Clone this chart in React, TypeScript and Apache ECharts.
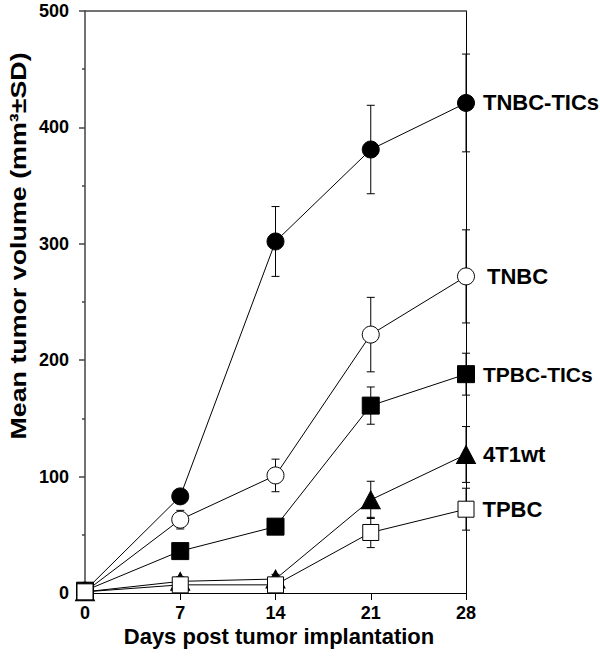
import React, { useEffect, useRef } from "react";
import * as echarts from "echarts";

const days = [0, 7, 14, 21, 28];
const seriesNames = ["TNBC-TICs", "TNBC", "TPBC-TICs", "4T1wt", "TPBC"];
const tnbcTicsMean = [2, 83, 302, 381, 421];
const tnbcTicsSd = [0, 4, 30, 38, 42];
const tnbcMean = [1, 63, 101, 222, 272];
const tnbcSd = [0, 8, 14, 32, 40];
const tpbcTicsMean = [2, 36, 57, 161, 188];
const tpbcTicsSd = [0, 3, 4, 16, 18];
const t41wtMean = [1, 10, 12, 80, 119];
const t41wtSd = [0, 4, 4, 16, 24];
const tpbcMean = [1, 7, 7, 52, 72];
const tpbcSd = [0, 5, 3, 13, 18];
const yTicks = [0, 100, 200, 300, 400, 500];
const xTitle = "Days post tumor implantation";
const yTitle = "Mean tumor volume (mm³±SD)";

const FONT = '"Liberation Sans", Arial, Helvetica, sans-serif';

export default function App() {
  const ref = useRef<HTMLDivElement>(null);
  useEffect(() => {
    if (!ref.current) return;
    const chart = echarts.init(ref.current, null, { renderer: "svg" });

    const means = [tnbcTicsMean, tnbcMean, tpbcTicsMean, t41wtMean, tpbcMean];
    const sds = [tnbcTicsSd, tnbcSd, tpbcTicsSd, t41wtSd, tpbcSd];
    const styles = [
      { symbol: "circle", size: 17, color: "#000", dist: 8, fs: 22 },
      { symbol: "circle", size: 17, color: "#fff", dist: 12, fs: 22 },
      { symbol: "rect", size: 17, color: "#000", dist: 8, fs: 21 },
      { symbol: "triangle", size: [19, 18], color: "#000", dist: 7, fs: 22 },
      { symbol: "rect", size: 16, color: "#fff", dist: 8, fs: 22 },
    ];

    const errData: number[][] = [];
    means.forEach((m, si) => {
      m.forEach((v, i) => {
        if (sds[si][i] > 0) errData.push([days[i], v, sds[si][i]]);
      });
    });

    const lineSeries = seriesNames.map((name, si) => ({
      type: "line",
      name,
      z: 3,
      symbol: styles[si].symbol,
      symbolSize: styles[si].size,
      lineStyle: { color: "#000", width: 1 },
      itemStyle: { color: styles[si].color, borderColor: "#000", borderWidth: 1 },
      data: means[si].map((v, i) => {
        const item: any = { value: [days[i], v] };
        if (i === days.length - 1) {
          item.label = {
            show: true,
            position: "right",
            distance: styles[si].dist,
            formatter: name,
            fontSize: styles[si].fs,
            fontWeight: "bold",
            fontFamily: FONT,
            color: "#000",
          };
        }
        return item;
      }),
    }));

    chart.setOption({
      animation: false,
      grid: { left: 85, right: 134, top: 11, bottom: 63 },
      xAxis: [
        {
          type: "value",
          min: 0,
          max: 28,
          interval: 7,
          position: "bottom",
          axisLine: { show: true, onZero: false, lineStyle: { color: "#000", width: 1 } },
          axisTick: { show: true, length: 7, lineStyle: { color: "#000", width: 1 } },
          axisLabel: { margin: 11, fontSize: 18, fontWeight: "bold", fontFamily: FONT, color: "#000" },
          splitLine: { show: false },
        },
        {
          type: "value",
          min: 0,
          max: 28,
          position: "top",
          axisLine: { show: true, onZero: false, lineStyle: { color: "#444", width: 1.5 } },
          axisTick: { show: false },
          axisLabel: { show: false },
          splitLine: { show: false },
        },
      ],
      yAxis: [
        {
          type: "value",
          min: yTicks[0],
          max: yTicks[yTicks.length - 1],
          interval: 100,
          position: "left",
          axisLine: { show: true, onZero: false, lineStyle: { color: "#444", width: 1.5 } },
          axisTick: { show: true, length: 6, lineStyle: { color: "#444", width: 1.5 } },
          minorTick: { show: true, splitNumber: 2, length: 3, lineStyle: { color: "#444", width: 1.5 } },
          axisLabel: { margin: 16, fontSize: 18, fontWeight: "bold", fontFamily: FONT, color: "#000" },
          splitLine: { show: false },
        },
        {
          type: "value",
          min: 0,
          max: 500,
          position: "right",
          axisLine: { show: true, onZero: false, lineStyle: { color: "#000", width: 1 } },
          axisTick: { show: false },
          axisLabel: { show: false },
          splitLine: { show: false },
        },
      ],
      graphic: [
        {
          type: "text",
          x: 279,
          y: 636,
          style: {
            text: xTitle,
            fontSize: 22,
            fontWeight: "bold",
            fontFamily: FONT,
            fill: "#000",
            align: "center",
            verticalAlign: "middle",
          },
        },
        {
          type: "text",
          x: 18,
          y: 246,
          rotation: Math.PI / 2,
          scaleX: 1.22,
          style: {
            text: yTitle,
            fontSize: 22,
            fontWeight: "bold",
            fontFamily: FONT,
            fill: "#000",
            align: "center",
            verticalAlign: "middle",
          },
        },
      ],
      series: [
        {
          type: "custom",
          name: "errors",
          z: 1,
          data: errData,
          encode: { x: 0, y: 1 },
          renderItem: (params: any, api: any) => {
            const x = api.value(0);
            const y = api.value(1);
            const e = api.value(2);
            const top = api.coord([x, y + e]);
            const bot = api.coord([x, y - e]);
            const hw = 4;
            const st = { stroke: "#000", lineWidth: 1 };
            return {
              type: "group",
              children: [
                { type: "line", shape: { x1: top[0], y1: top[1], x2: bot[0], y2: bot[1] }, style: st },
                { type: "line", shape: { x1: top[0] - hw, y1: top[1], x2: top[0] + hw, y2: top[1] }, style: st },
                { type: "line", shape: { x1: bot[0] - hw, y1: bot[1], x2: bot[0] + hw, y2: bot[1] }, style: st },
              ],
            };
          },
        },
        ...lineSeries,
      ],
    });
    return () => chart.dispose();
  }, []);
  return (
    <div
      ref={ref}
      style={{ position: "fixed", left: 0, top: 0, width: 600, height: 656, background: "#fff" }}
    />
  );
}
